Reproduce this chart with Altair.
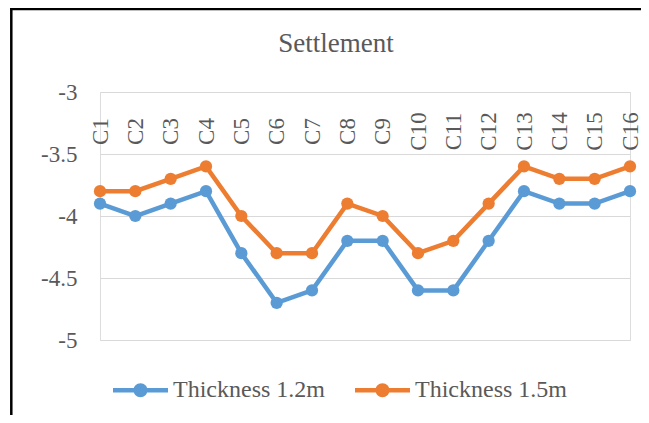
import altair as alt
import pandas as pd

categories = ["C1", "C2", "C3", "C4", "C5", "C6", "C7", "C8",
              "C9", "C10", "C11", "C12", "C13", "C14", "C15", "C16"]
series_names = ["Thickness 1.2m", "Thickness 1.5m"]
thick_12 = [-3.9, -4.0, -3.9, -3.8, -4.3, -4.7, -4.6, -4.2,
            -4.2, -4.6, -4.6, -4.2, -3.8, -3.9, -3.9, -3.8]
thick_15 = [-3.8, -3.8, -3.7, -3.6, -4.0, -4.3, -4.3, -3.9,
            -4.0, -4.3, -4.2, -3.9, -3.6, -3.7, -3.7, -3.6]
y_ticks = [-5, -4.5, -4, -3.5, -3]
colors = ["#5B9BD5", "#ED7D31"]

rows = []
for name, vals in zip(series_names, [thick_12, thick_15]):
    for c, v in zip(categories, vals):
        rows.append({"cat": c, "value": v, "series": name})
df = pd.DataFrame(rows)

FONT = "Liberation Serif"
TXT = "#595959"
W, H = 530, 248

# legend symbol: filled bar + circle (Excel style line-with-marker)
sym = ("M-1,-0.082H1V0.082H-1Z "
       "M0.2545,0A0.2545,0.2545 0 1,1 -0.2545,0A0.2545,0.2545 0 1,1 0.2545,0Z")

x_enc = alt.X("cat:N", sort=categories,
              scale=alt.Scale(type="point", padding=0),
              axis=alt.Axis(orient="bottom", offset=-H, title=None,
                            domain=False, ticks=False, grid=False,
                            labelAngle=270, labelAlign="center",
                            labelBaseline="middle", labelPadding=39,
                            labelFont=FONT, labelFontSize=23,
                            labelColor=TXT, labelOverlap=False))
y_enc = alt.Y("value:Q",
              scale=alt.Scale(domain=[-5, -3], nice=False, zero=False),
              axis=alt.Axis(values=y_ticks, title=None, domain=False,
                            ticks=False, grid=True, gridColor="#D9D9D9",
                            gridWidth=1.2, labelPadding=23,
                            labelExpr="datum.value + ''",
                            labelFont=FONT, labelFontSize=23,
                            labelColor=TXT))
color_enc = alt.Color("series:N", sort=series_names,
                      scale=alt.Scale(domain=series_names, range=colors),
                      legend=alt.Legend(title=None, orient="none",
                                        direction="horizontal",
                                        legendX=13, legendY=270.5,
                                        padding=0, symbolType=sym,
                                        symbolSize=3025,
                                        symbolStrokeWidth=0,
                                        labelFont=FONT, labelFontSize=24,
                                        labelColor=TXT, labelOffset=5,
                                        columnPadding=30, labelLimit=400))

base = alt.Chart(df)
points = base.mark_point(filled=True, size=150, opacity=1).encode(
    x=x_enc, y=y_enc, color=color_enc)
lines = base.mark_line(strokeWidth=4.5).encode(
    x=x_enc, y=y_enc, color=color_enc, detail="series:N")

border_left = alt.Chart().mark_rule(color="black", strokeWidth=2.5).encode(
    x=alt.value(-88.7), y=alt.value(-84), y2=alt.value(331))
border_top = alt.Chart().mark_rule(color="black", strokeWidth=2.5).encode(
    x=alt.value(-90), x2=alt.value(541), y=alt.value(-83))

chart = alt.layer(points, lines, border_left, border_top).properties(
    width=W, height=H,
    title=alt.TitleParams("Settlement", font=FONT, fontSize=27,
                          fontWeight="normal", color=TXT,
                          anchor="middle", dx=-29, offset=-72,
                          baseline="alphabetic"),
    autosize=alt.AutoSizeParams(type="none"),
    padding={"left": 92, "top": 84, "right": 11, "bottom": 75},
).configure_view(stroke=None).configure(background="white")

chart.save("out.html", embed_options={"renderer": "svg", "actions": False})
